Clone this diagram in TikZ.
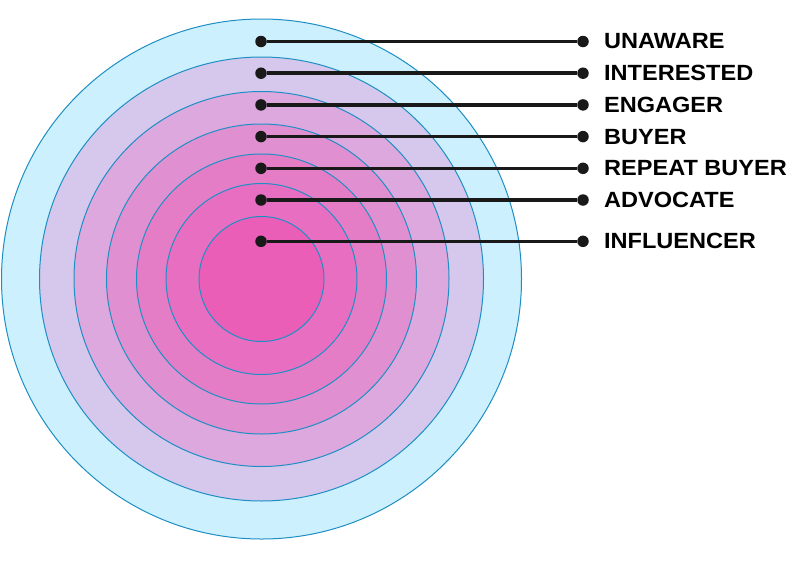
\documentclass[tikz,border=0pt]{standalone}
\usepackage{fontspec}
\setmainfont{Liberation Sans}
\newfontfamily\labelfont[FakeStretch=1.07]{Liberation Sans}
\usetikzlibrary{positioning}
\definecolor{ringLine}{HTML}{1E8FC4}
\definecolor{ringA}{HTML}{CCF0FD}
\definecolor{ringB}{HTML}{D6C8EC}
\definecolor{ringC}{HTML}{DCA8DE}
\definecolor{ringD}{HTML}{E090D0}
\definecolor{ringE}{HTML}{E47DC6}
\definecolor{ringF}{HTML}{E86EC2}
\definecolor{ringG}{HTML}{EA5EB8}

\begin{document}
\begin{tikzpicture}[x=1pt,y=-1pt]
\tikzset{myFont/.style={font=\labelfont\fontsize{22}{24}\selectfont\bfseries}}
\tikzset{myRing/.style={draw=ringLine,line width=1pt,circle,inner sep=0pt}}
\tikzset{myDot/.style={fill=black!90,circle,inner sep=0pt,minimum size=11.5pt}}
\tikzset{myLine/.style={draw=black!90,line width=3.6pt}}
\tikzset{myLabel/.style={myFont,inner sep=0pt,right=15pt of #1}}

\useasboundingbox (0,0) rectangle (800,560);

% rings
\node[myRing,fill=ringA,minimum size=520pt] (unaware) at (261.5,279) {};
\node[myRing,fill=ringB,minimum size=444pt] (interested) at (261.5,279) {};
\node[myRing,fill=ringC,minimum size=375pt] (engager) at (261.5,279) {};
\node[myRing,fill=ringD,minimum size=310pt] (buyer) at (261.5,279) {};
\node[myRing,fill=ringE,minimum size=250pt] (repeat) at (261.5,279) {};
\node[myRing,fill=ringF,minimum size=191pt] (advocate) at (261.5,279) {};
\node[myRing,fill=ringG,minimum size=125pt] (influencer) at (261.5,279) {};

% dots inside
\node[myDot] (dotUnaware) at (261,41.5) {};
\node[myDot] (dotInterested) at (261,73.2) {};
\node[myDot] (dotEngager) at (261,104.9) {};
\node[myDot] (dotBuyer) at (261,136.6) {};
\node[myDot] (dotRepeat) at (261,168.3) {};
\node[myDot] (dotAdvocate) at (261,200) {};
\node[myDot] (dotInfluencer) at (261,241.3) {};

% dots outside
\node[myDot] (endUnaware) at (583,41.5) {};
\node[myDot] (endInterested) at (583,73.2) {};
\node[myDot] (endEngager) at (583,104.9) {};
\node[myDot] (endBuyer) at (583,136.6) {};
\node[myDot] (endRepeat) at (583,168.3) {};
\node[myDot] (endAdvocate) at (583,200) {};
\node[myDot] (endInfluencer) at (583,241.3) {};

\path[myLine] (dotUnaware) -- (endUnaware);
\path[myLine] (dotInterested) -- (endInterested);
\path[myLine] (dotEngager) -- (endEngager);
\path[myLine] (dotBuyer) -- (endBuyer);
\path[myLine] (dotRepeat) -- (endRepeat);
\path[myLine] (dotAdvocate) -- (endAdvocate);
\path[myLine] (dotInfluencer) -- (endInfluencer);

% labels
\node[myLabel=endUnaware] (labUnaware) {UNAWARE};
\node[myLabel=endInterested] (labInterested) {INTERESTED};
\node[myLabel=endEngager] (labEngager) {ENGAGER};
\node[myLabel=endBuyer] (labBuyer) {BUYER};
\node[myLabel=endRepeat] (labRepeat) {REPEAT BUYER};
\node[myLabel=endAdvocate] (labAdvocate) {ADVOCATE};
\node[myLabel=endInfluencer] (labInfluencer) {INFLUENCER};

\end{tikzpicture}
\end{document}
